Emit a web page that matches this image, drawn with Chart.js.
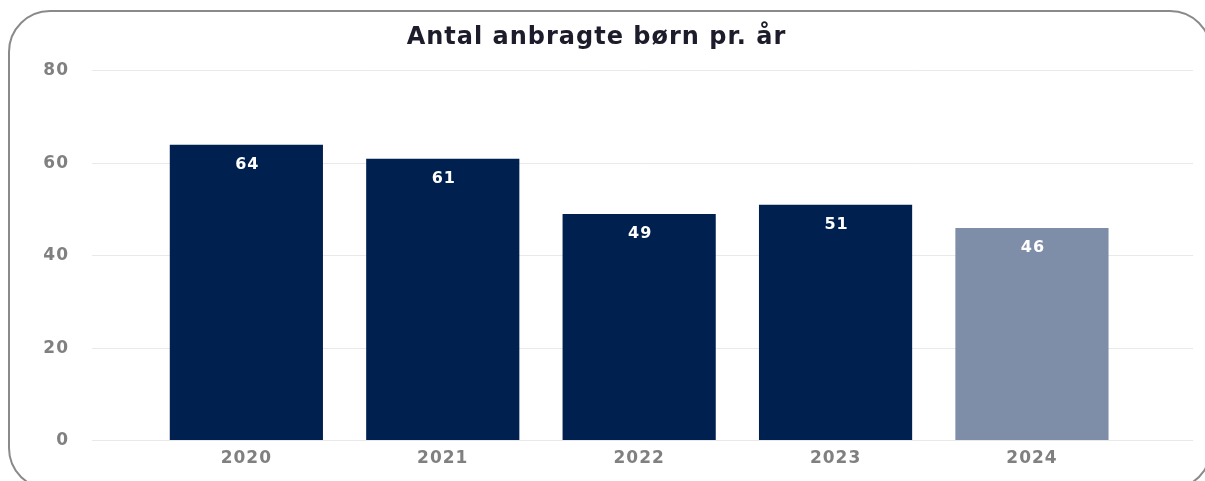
<!DOCTYPE html>
<html>
<head>
<meta charset="utf-8">
<script src="https://cdn.jsdelivr.net/npm/chart.js@4"></script>
<style>
  html, body { margin: 0; padding: 0; background: #fff; overflow: hidden; }
  #frame {
    position: absolute; left: 8px; top: 10px; width: 1204px; height: 480px;
    border: 2px solid #8a8a8a; border-radius: 42px; box-sizing: border-box;
  }
  #wrap { position: absolute; left: 0; top: 0; width: 1205px; height: 481px; }
</style>
</head>
<body>
<div id="frame"></div>
<div id="wrap"><canvas id="myChart" width="1205" height="481"></canvas></div>
<script>
// chart data
var years = ['2020', '2021', '2022', '2023', '2024'];
var children = [64, 61, 49, 51, 46];
var yTicks = [0, 20, 40, 60, 80];
var barColors = ['#00214f', '#00214f', '#00214f', '#00214f', '#7f8ea8'];

var fontFamily = '"DejaVu Sans", "Open Sans", sans-serif';

// the original text is set a bit wide
const wideText = {
    id: 'wideText',
    beforeDraw(chart) {
        chart.ctx.letterSpacing = '1px';
    }
};

// white value labels inside each bar
const barLabels = {
    id: 'barLabels',
    afterDatasetsDraw(chart) {
        const ctx = chart.ctx;
        const meta = chart.getDatasetMeta(0);
        ctx.save();
        ctx.fillStyle = '#ffffff';
        ctx.font = 'bold 16px ' + fontFamily;
        ctx.textAlign = 'center';
        ctx.textBaseline = 'middle';
        meta.data.forEach(function (bar, i) {
            ctx.fillText(children[i], bar.x + 1, bar.y + 20);
        });
        ctx.restore();
    }
};

const ctx = document.getElementById('myChart');
new Chart(ctx, {
    type: 'bar',
    data: {
        datasets: [{
            data: children.map(function (v, i) { return { x: i, y: v }; }),
            backgroundColor: barColors,
            borderWidth: 0,
            barPercentage: 0.78,
            categoryPercentage: 1.0
        }]
    },
    options: {
        responsive: false,
        animation: false,
        layout: { padding: { left: 0, right: 12, top: 17, bottom: 12 } },
        plugins: {
            legend: { display: false },
            tooltip: { enabled: false },
            title: {
                display: true,
                text: 'Antal anbragte børn pr. år',
                color: '#1c1c2b',
                font: { family: fontFamily, size: 24, weight: 'bold' },
                padding: { top: 6, bottom: 19 }
            }
        },
        scales: {
            x: {
                type: 'linear',
                offset: false,
                min: -0.786,
                max: 4.82,
                grid: { display: false },
                border: { display: false },
                ticks: {
                    stepSize: 1,
                    includeBounds: false,
                    autoSkip: false,
                    maxRotation: 0,
                    padding: 0,
                    color: '#808080',
                    font: { family: fontFamily, size: 17, weight: 'bold' },
                    callback: function (v) {
                        return Number.isInteger(v) && years[v] !== undefined ? years[v] : '';
                    }
                }
            },
            y: {
                min: 0,
                max: 80,
                afterBuildTicks: function (scale) {
                    scale.ticks = yTicks.map(function (v) { return { value: v }; });
                },
                afterFit: function (scale) { scale.width = 92; },
                grid: { color: '#e9e9e9', drawTicks: false, lineWidth: 1 },
                border: { display: false },
                ticks: {
                    padding: 23,
                    color: '#808080',
                    font: { family: fontFamily, size: 17, weight: 'bold' }
                }
            }
        }
    },
    plugins: [wideText, barLabels]
});
</script>
</body>
</html>
